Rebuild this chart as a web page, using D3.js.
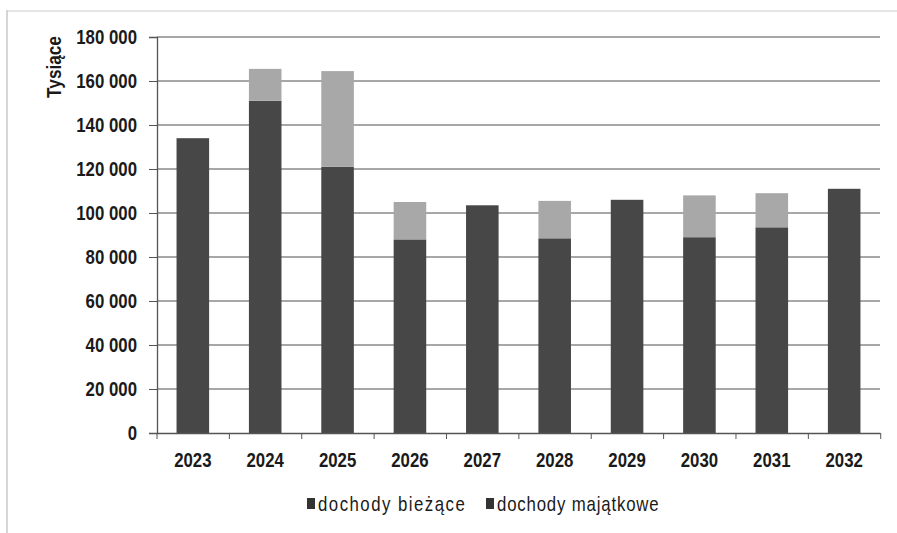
<!DOCTYPE html>
<html><head><meta charset="utf-8">
<script src="https://cdn.jsdelivr.net/npm/d3@7"></script>
<style>body{margin:0;background:#fff}svg{display:block}</style>
</head><body>
<svg id="c" width="897" height="533"></svg>
<script>
const years = ["2023","2024","2025","2026","2027","2028","2029","2030","2031","2032"];
const biezace = [134000,151000,121000,88000,103500,88500,106000,89000,93500,111000];
const majatkowe = [0,14500,43500,17000,0,17000,0,19000,15500,0];
const yTicks = [0,20000,40000,60000,80000,100000,120000,140000,160000,180000];
const seriesNames = ["dochody bieżące","dochody majątkowe"];
const colors = ["#474747","#a8a8a8"];

const svg = d3.select("#c");
const font = "'Liberation Sans',Arial,sans-serif";
const SX = 0.82;
const FS = 20.5;
const m = {l:157, r:880, t:37, b:433};
const x = d3.scaleBand().domain(years).range([m.l, m.r]).paddingInner(0.55).paddingOuter(0.27);
const y = d3.scaleLinear().domain([0,180000]).range([m.b, m.t]);

// scan frame
svg.append("line").attr("x1",7).attr("x2",7).attr("y1",10).attr("y2",533).attr("stroke","#bbb").attr("stroke-width",1.2);
svg.append("line").attr("x1",7).attr("x2",897).attr("y1",11).attr("y2",11).attr("stroke","#ccc").attr("stroke-width",1);

// gridlines
svg.append("g").selectAll("line").data(yTicks.filter(d=>d>0)).join("line")
  .attr("x1",m.l).attr("x2",m.r).attr("y1",d=>y(d)).attr("y2",d=>y(d))
  .attr("stroke","#8a8a8a").attr("stroke-width",1.4);

// stacks
const data = years.map((yr,i)=>({year:yr, b:biezace[i], m:majatkowe[i]}));
const stack = d3.stack().keys(["b","m"])(data);
svg.append("g").selectAll("g").data(stack).join("g").attr("fill",(d,i)=>colors[i])
  .selectAll("rect").data(d=>d).join("rect")
  .attr("x",d=>x(d.data.year)).attr("width",x.bandwidth())
  .attr("y",d=>y(d[1])).attr("height",d=>y(d[0])-y(d[1]));

// axes
const ya = d3.axisLeft(y).tickValues(yTicks).tickSize(8).tickPadding(8)
  .tickFormat(d=>d3.format(",")(d).replace(/,/g," "));
const gy = svg.append("g").attr("transform",`translate(${m.l},0)`).call(ya);
gy.select(".domain").attr("stroke","#555").attr("stroke-width",1.3);
gy.selectAll(".tick line").attr("stroke","#555");
gy.selectAll("text").attr("font-family",font).attr("font-size",FS).attr("font-weight","bold").attr("fill","#1a1a1a")
  .attr("x",-20/SX).attr("transform",`scale(${SX},1)`);

const xa = d3.axisBottom(x).tickSize(0).tickPadding(19);
const gx = svg.append("g").attr("transform",`translate(0,${m.b})`).call(xa);
gx.select(".domain").attr("stroke","#555").attr("stroke-width",1.3);
gx.selectAll("text").attr("font-family",font).attr("font-size",FS).attr("font-weight","bold").attr("fill","#1a1a1a")
  .attr("transform",`scale(${SX},1)`);
// category separator ticks
const step = x.step();
svg.append("g").selectAll("line").data(d3.range(years.length+1)).join("line")
  .attr("x1",i=>m.l+i*step).attr("x2",i=>m.l+i*step).attr("y1",m.b).attr("y2",m.b+6)
  .attr("stroke","#555");

// y title
svg.append("text").attr("transform",`translate(61,67) rotate(-90) scale(0.86,1)`).attr("text-anchor","middle")
  .attr("font-family",font).attr("font-size",20).attr("font-weight","bold").attr("fill","#1a1a1a").text("Tysiące");

// legend
const lg = svg.append("g").attr("transform","translate(0,511)");
const lx = [318, 497];
const ls = [1.8, 1.0];
seriesNames.forEach((n,i)=>{
  lg.append("rect").attr("x",lx[i]-11).attr("y",-13).attr("width",8).attr("height",11).attr("fill","#333");
  lg.append("text").attr("transform",`translate(${lx[i]},0) scale(${SX},1)`).attr("font-family",font).attr("font-size",FS)
    .attr("fill","#1a1a1a").attr("letter-spacing",ls[i]).text(n);
});
</script>
</body></html>
